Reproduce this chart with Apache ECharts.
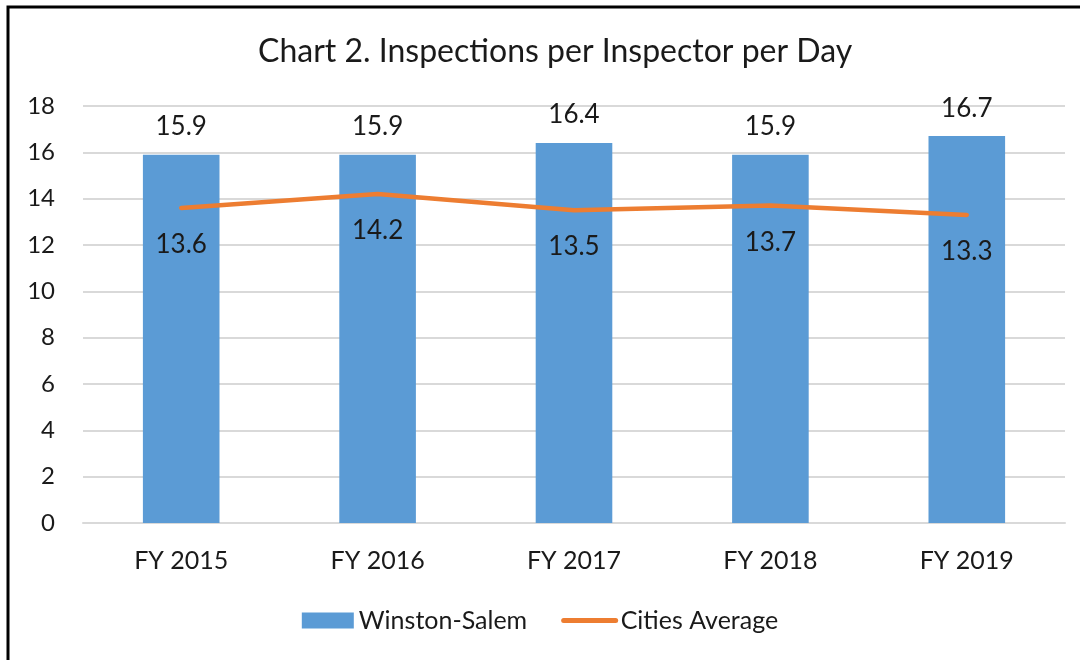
<!DOCTYPE html>
<html>
<head>
<meta charset="utf-8">
<script src="https://cdn.jsdelivr.net/npm/echarts@6/dist/echarts.min.js"></script>
<style>
  html, body { margin: 0; padding: 0; background: #fff; }
  #chart { width: 1080px; height: 660px; }
</style>
</head>
<body>
<div id="chart"></div>
<script>
const years = ["FY 2015", "FY 2016", "FY 2017", "FY 2018", "FY 2019"];
const winstonSalem = [15.9, 15.9, 16.4, 15.9, 16.7];
const citiesAverage = [13.6, 14.2, 13.5, 13.7, 13.3];

const chartDom = document.getElementById("chart");
const myChart = echarts.init(chartDom);
const font = "Lato, 'Open Sans', sans-serif";
let option;
option = {
  animation: false,
  textStyle: { fontFamily: font },
  title: {
    text: "Chart 2. Inspections per Inspector per Day",
    left: 253,
    top: 31,
    textStyle: { fontFamily: font, fontSize: 32, fontWeight: "normal", color: "#1a1a1a" },
  },
  graphic: [
    {
      type: "rect",
      shape: { x: 8, y: 7, width: 1200, height: 800 },
      style: { fill: "none", stroke: "#000", lineWidth: 3 },
      silent: true,
    },
  ],
  legend: {
    bottom: 22,
    left: "center",
    itemGap: 34,
    itemWidth: 52,
    itemHeight: 16,
    textStyle: { fontFamily: font, fontSize: 25, color: "#1a1a1a" },
    data: [
      { name: "Winston-Salem", icon: "rect" },
      {
        name: "Cities Average",
        lineStyle: { color: "#ed7d31", width: 5, cap: "round" },
      },
    ],
  },
  grid: {
    top: 106,
    bottom: 137,
    left: 83,
    right: 15,
    containLabel: false,
  },
  xAxis: {
    type: "category",
    data: years,
    axisLine: { lineStyle: { color: "#d9d9d9", width: 2 } },
    axisTick: { show: false },
    axisLabel: { fontSize: 25, color: "#1a1a1a", margin: 25 },
  },
  yAxis: {
    type: "value",
    min: 0,
    max: 18,
    interval: 2,
    axisLine: { show: false },
    axisTick: { show: false },
    splitLine: { lineStyle: { color: "#d9d9d9", width: 2 } },
    axisLabel: { fontSize: 24, color: "#1a1a1a", margin: 28 },
  },
  series: [
    {
      name: "Winston-Salem",
      type: "bar",
      data: winstonSalem,
      barWidth: "39%",
      itemStyle: { color: "#5b9bd5" },
      label: {
        show: true,
        position: "top",
        distance: 15,
        fontSize: 26,
        color: "#1a1a1a",
        formatter: (p) => p.value.toFixed(1),
      },
    },
    {
      name: "Cities Average",
      type: "line",
      data: citiesAverage,
      symbol: "circle",
      symbolSize: 1,
      showSymbol: true,
      lineStyle: { color: "#ed7d31", width: 4.5, cap: "round" },
      itemStyle: { color: "transparent", borderWidth: 0 },
      label: {
        show: true,
        position: "bottom",
        distance: 23,
        fontSize: 26,
        color: "#1a1a1a",
        formatter: (p) => p.value.toFixed(1),
      },
    },
  ],
};
myChart.setOption(option);
window.onresize = function () {
  myChart.resize();
};
</script>
</body>
</html>
